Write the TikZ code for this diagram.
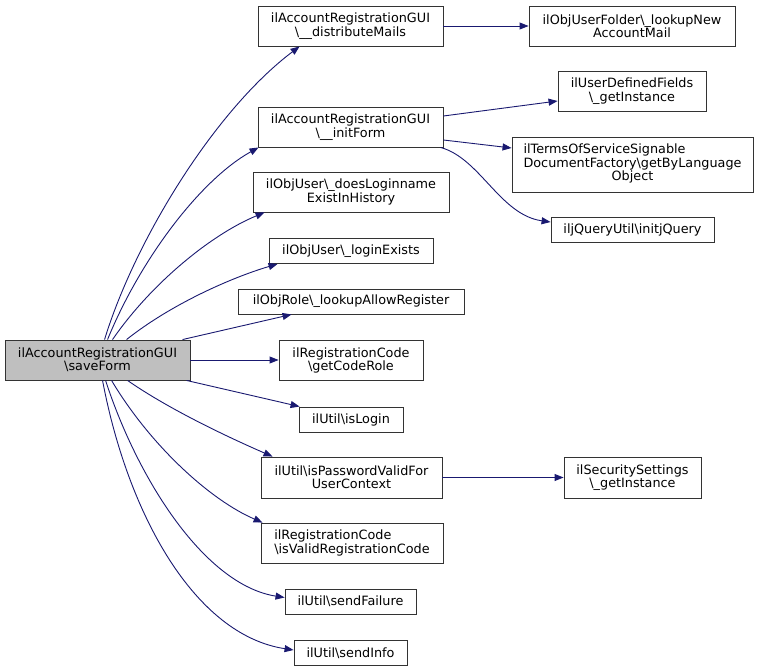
\documentclass[tikz,border=0pt]{standalone}
\usepackage{fontspec}
\setmainfont{DejaVu Sans}
\usetikzlibrary{arrows.meta}
\definecolor{edgeblue}{HTML}{191970}
\definecolor{mainfill}{HTML}{BFBFBF}
\begin{document}
\begin{tikzpicture}[x=1pt,y=-1pt,
  box/.style={draw=black!80,line width=0.9pt,fill=white,inner sep=0pt,align=center,
    font=\fontsize{12.8}{13.4}\selectfont},
  edge/.style={draw=edgeblue,line width=0.9pt,-{Triangle[length=9pt,width=7pt]},fill=none}]
\useasboundingbox (0,0) rectangle (759,671);
% nodes
\node[box,fill=mainfill,minimum width=185pt,minimum height=40pt] (main) at (97.5,360) {ilAccountRegistrationGUI\\\textbackslash saveForm};
\node[box,minimum width=185pt,minimum height=40pt] (dist) at (350.5,26) {ilAccountRegistrationGUI\\\textbackslash\_\_distributeMails};
\node[box,minimum width=206pt,minimum height=40pt] (newmail) at (632,26) {ilObjUserFolder\textbackslash\_lookupNew\\AccountMail};
\node[box,minimum width=185pt,minimum height=40pt] (init) at (350.5,127) {ilAccountRegistrationGUI\\\textbackslash\_\_initForm};
\node[box,minimum width=148pt,minimum height=40pt] (udf) at (632,91) {ilUserDefinedFields\\\textbackslash\_getInstance};
\node[box,minimum width=241pt,minimum height=55pt] (tos) at (632.5,164.5) {\begin{tabular}{@{}l@{}}ilTermsOfServiceSignable\\DocumentFactory\textbackslash getByLanguage\\\multicolumn{1}{@{}c@{}}{Object}\end{tabular}};
\node[box,minimum width=163pt,minimum height=25pt] (jq) at (632.5,229.5) {iljQueryUtil\textbackslash initjQuery};
\node[box,minimum width=196pt,minimum height=40pt] (does) at (351,192) {ilObjUser\textbackslash\_doesLoginname\\ExistInHistory};
\node[box,minimum width=164pt,minimum height=25pt] (login) at (351,251) {ilObjUser\textbackslash\_loginExists};
\node[box,minimum width=226pt,minimum height=25pt] (allow) at (351,301.5) {ilObjRole\textbackslash\_lookupAllowRegister};
\node[box,minimum width=144pt,minimum height=40pt] (coderole) at (351,360.5) {ilRegistrationCode\\\textbackslash getCodeRole};
\node[box,minimum width=104pt,minimum height=25pt] (islogin) at (351,419.5) {ilUtil\textbackslash isLogin};
\node[box,minimum width=181pt,minimum height=41pt] (pwd) at (351.5,477.5) {ilUtil\textbackslash isPasswordValidFor\\UserContext};
\node[box,minimum width=137pt,minimum height=41pt] (sec) at (632.5,477.5) {ilSecuritySettings\\\textbackslash\_getInstance};
\node[box,minimum width=182pt,minimum height=40pt,align=left] (valid) at (352,543) {ilRegistrationCode\\\textbackslash isValidRegistrationCode};
\node[box,minimum width=131pt,minimum height=25pt] (fail) at (350.5,601.5) {ilUtil\textbackslash sendFailure};
\node[box,minimum width=113pt,minimum height=25pt] (info) at (350.5,653) {ilUtil\textbackslash sendInfo};
% edges from main
\draw[edge] ([xshift=100]main.north west) .. controls (135,240) and (215,110) .. ([xshift=42]dist.south west);
\draw[edge] ([xshift=103]main.north west) .. controls (140,260) and (200,180) .. ([xshift=1]init.south west);
\draw[edge] ([xshift=108]main.north west) .. controls (150,285) and (210,235) .. ([xshift=12]does.south west);
\draw[edge] ([xshift=122]main.north west) .. controls (170,305) and (230,278) .. ([xshift=9]login.south west);
\draw[edge] ([xshift=178]main.north west) -- ([xshift=54]allow.south west);
\draw[edge] (main.east) -- (main.east -| coderole.west);
\draw[edge] ([xshift=182]main.south west) -- ([xshift=1]islogin.north west);
\draw[edge] ([xshift=123]main.south west) .. controls (170,410) and (230,438) .. ([xshift=12]pwd.north west);
\draw[edge] ([xshift=107]main.south west) .. controls (150,445) and (210,500) .. ([xshift=2]valid.north west);
\draw[edge] ([xshift=101]main.south west) .. controls (138,480) and (205,585) .. ([yshift=4]fail.west);
\draw[edge] ([xshift=98]main.south west) .. controls (128,515) and (195,635) .. ([yshift=3]info.west);
% other edges
\draw[edge] (dist.east) -- (newmail.west);
\draw[edge] ([yshift=11]init.east) -- ([yshift=-10]udf.west);
\draw[edge] ([yshift=-13]init.east) -- ([yshift=16.5]tos.west);
\draw[edge] ([xshift=-3]init.south east) .. controls (480,158) and (500,215) .. ([yshift=7.5]jq.west);
\draw[edge] (pwd.east) -- (sec.west);
\end{tikzpicture}
\end{document}
